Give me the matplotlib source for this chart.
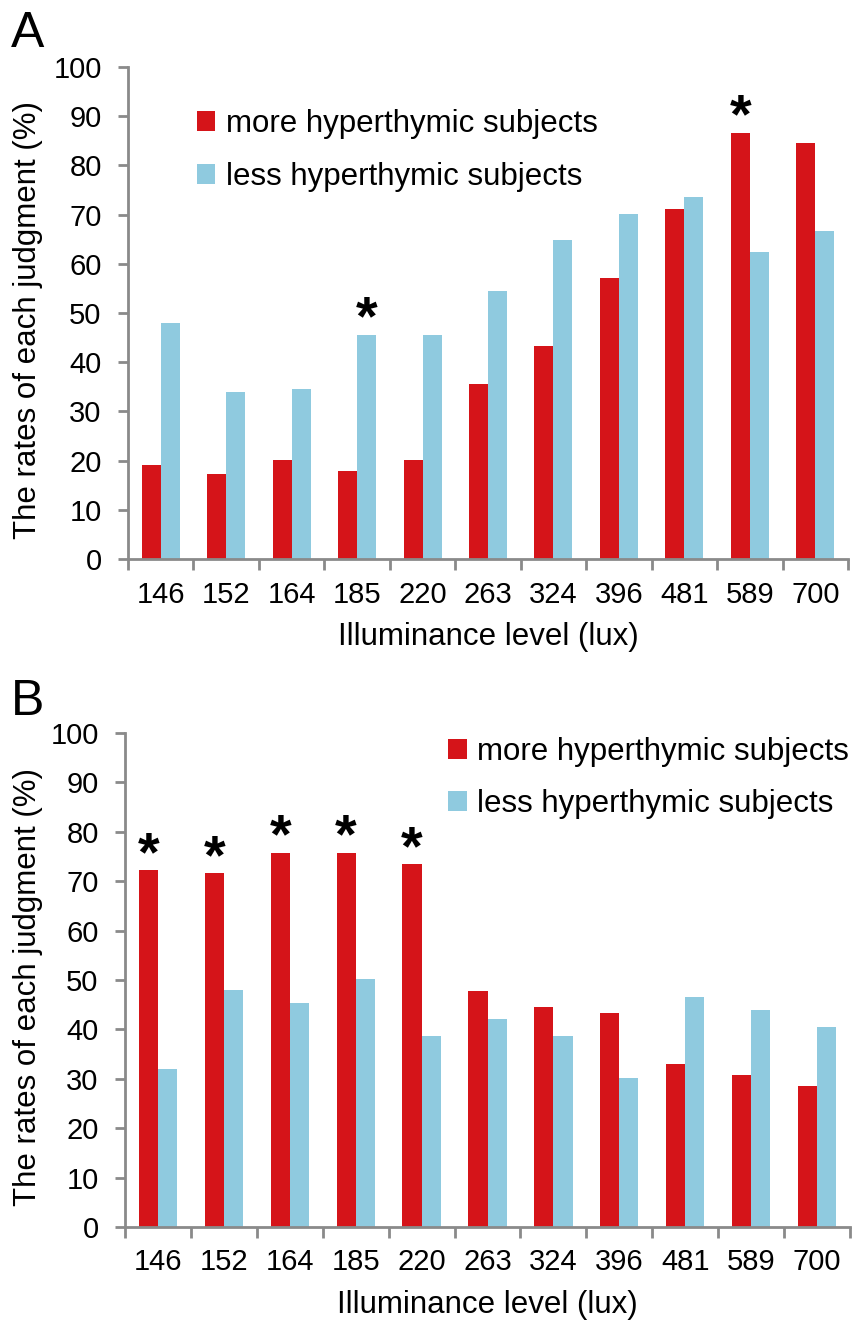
import matplotlib
matplotlib.use('Agg')
from matplotlib import pyplot as plt
import numpy as np

plt.rcParams['font.family'] = ['Liberation Sans', 'DejaVu Sans']

lux = ['146', '152', '164', '185', '220', '263', '324', '396', '481', '589', '700']

# panel A
more_a = [19.2, 17.3, 20.1, 17.9, 20.1, 35.6, 43.4, 57.1, 71.2, 86.7, 84.6]
less_a = [48.0, 33.9, 34.5, 45.6, 45.6, 54.4, 64.9, 70.1, 73.6, 62.4, 66.7]
sig_a = [3, 9]

# panel B
more_b = [72.2, 71.7, 75.8, 75.8, 73.5, 47.8, 44.6, 43.3, 33.0, 30.8, 28.6]
less_b = [32.0, 48.0, 45.3, 50.1, 38.6, 42.2, 38.6, 30.2, 46.5, 43.9, 40.4]
sig_b = [0, 1, 2, 3, 4]

RED = '#D51419'
BLUE = '#8FCADF'
GRAY = '#8a8a8a'


def draw_panel(ax, more, less, sig, leg_anchor, ylab_x):
    x = np.arange(len(lux))
    w = 0.29
    ax.bar(x - w / 2, more, w, color=RED, label='more hyperthymic subjects')
    ax.bar(x + w / 2, less, w, color=BLUE, label='less hyperthymic subjects')
    for i in sig:
        if more[i] >= less[i]:
            xs, top = x[i] - w / 2, more[i]
        else:
            xs, top = x[i] + w / 2, less[i]
        ax.text(xs, top, '*', ha='center', va='baseline',
                fontsize=40, fontweight='bold')

    ax.set_xlim(-0.5, len(lux) - 0.5)
    ax.set_ylim(0, 100)
    ax.set_yticks(np.arange(0, 101, 10))
    ax.set_xticks(x)
    ax.set_xticklabels(lux)
    ax.set_xticks(np.arange(-0.5, len(lux), 1), minor=True)
    ax.tick_params(axis='x', which='major', length=0, pad=15.5, labelsize=21)
    ax.tick_params(axis='x', which='minor', length=8, width=2, color=GRAY,
                   direction='out')
    ax.tick_params(axis='y', length=7, width=2, color=GRAY, pad=12,
                   labelsize=21)
    for s in ['top', 'right']:
        ax.spines[s].set_visible(False)
    for s in ['left', 'bottom']:
        ax.spines[s].set_color(GRAY)
        ax.spines[s].set_linewidth(2)
    ax.set_xlabel('Illuminance level (lux)', fontsize=22.5, labelpad=10)
    ax.set_ylabel('The rates of each judgment (%)', fontsize=22.5)
    ax.yaxis.set_label_coords(ylab_x, 0.485)
    ax.legend(loc='upper left', bbox_to_anchor=leg_anchor, frameon=False,
              fontsize=22.5, handlelength=0.6, handleheight=0.6,
              handletextpad=0.35, labelspacing=0.72, borderaxespad=0)


fig = plt.figure(figsize=(8.54, 13.26), dpi=100)
ax1 = fig.add_axes([0.1499, 0.5784, 0.8431, 0.3710])
ax2 = fig.add_axes([0.1464, 0.0747, 0.8489, 0.3725])

draw_panel(ax1, more_a, less_a, sig_a, (0.078, 0.94), -0.118)
draw_panel(ax2, more_b, less_b, sig_b, (0.428, 1.018), -0.113)

fig.text(0.032, 0.9646, 'A', fontsize=36, ha='center', va='baseline')
fig.text(0.032, 0.4607, 'B', fontsize=36, ha='center', va='baseline')

fig.savefig('out.png', dpi=100)
